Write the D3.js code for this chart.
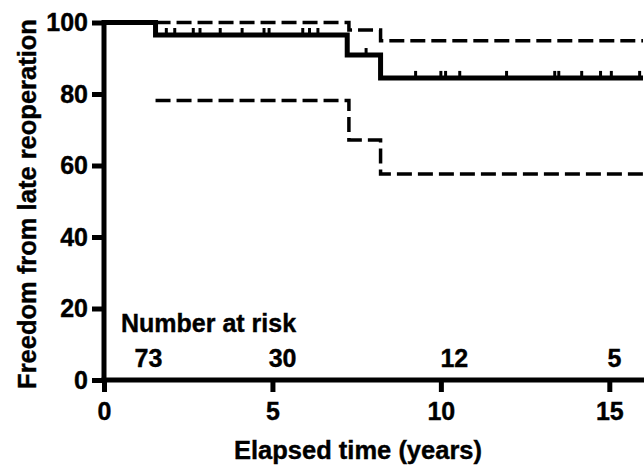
<!doctype html>
<meta charset="utf-8">
<title>Freedom from late reoperation</title>
<script src="https://d3js.org/d3.v7.min.js"></script>
<style>
  body { margin: 0; background: #fff; }
  text { font-family: "Liberation Sans", Arial, sans-serif; font-weight: bold; fill: #000; stroke: #000; stroke-width: 0.4px; }
</style>
<svg id="chart" width="644" height="465"></svg>
<script>
// Kaplan-Meier estimate (years, %)
const kmTimes = [0, 1.53, 7.22, 8.21, 16];
const kmValues = [100, 96.5, 90.9, 84.5, 84.5];

// 95% confidence band
const upperTimes = [1.53, 7.27, 8.21, 16];
const upperValues = [100, 97.9, 94.9, 94.9];
const lowerTimes = [1.53, 7.27, 8.21, 16];
const lowerValues = [78.2, 67.1, 57.6, 57.6];

// censored observations
const censorTimes = [1.85, 2.1, 2.65, 2.85, 3.45, 4.1, 4.75, 4.9, 5.9, 6.1, 6.35,
                     7.78, 9.25, 10.0, 10.14, 10.56, 11.95, 13.38, 13.5, 14.18, 14.74, 15.06, 15.9];

const xTicks = [0, 5, 10, 15];
const yTicks = [0, 20, 40, 60, 80, 100];

const riskYears = [1.32, 5.3, 10.4, 15.15];
const riskCounts = [73, 30, 12, 5];

function kmAt(t) {
  let v = kmValues[0];
  kmTimes.forEach((k, i) => { if (k <= t) v = kmValues[i]; });
  return v;
}

const svg = d3.select("#chart");
const x = d3.scaleLinear().domain([0, 16]).range([104, 643]);
const y = d3.scaleLinear().domain([0, 100]).range([380, 22.5]);

const line = d3.line()
    .x(d => x(d[0]))
    .y(d => y(d[1]))
    .curve(d3.curveStepAfter);

// confidence limits, dashed
[[upperTimes, upperValues], [lowerTimes, lowerValues]].forEach(([ts, vs]) => {
  svg.append("path")
      .attr("d", line(d3.zip(ts, vs)))
      .attr("fill", "none")
      .attr("stroke", "#000")
      .attr("stroke-width", 3.5)
      .attr("stroke-dasharray", "15,6");
});

// survival curve
svg.append("path")
    .attr("d", line(d3.zip(kmTimes, kmValues)))
    .attr("fill", "none")
    .attr("stroke", "#000")
    .attr("stroke-width", 5);

// censor marks
svg.append("g").selectAll("line")
  .data(censorTimes)
  .join("line")
    .attr("x1", d => x(d)).attr("x2", d => x(d))
    .attr("y1", d => y(kmAt(d)))
    .attr("y2", d => y(kmAt(d)) - 7)
    .attr("stroke", "#000")
    .attr("stroke-width", 3);

// axes
const yAxis = svg.append("g")
    .attr("transform", "translate(104,0)")
    .call(d3.axisLeft(y).tickValues(yTicks).tickSize(12).tickSizeOuter(0).tickPadding(4));

const xAxis = svg.append("g")
    .attr("transform", "translate(0,380)")
    .call(d3.axisBottom(x).tickValues(xTicks).tickSize(12).tickSizeOuter(0).tickPadding(10));

[yAxis, xAxis].forEach(a => {
  a.select(".domain").attr("stroke-width", 5);
  a.selectAll(".tick line").attr("stroke-width", 5);
  a.selectAll(".tick text").style("font-size", "25px").attr("font-family", null);
});
xAxis.select(".domain").attr("d", "M101.5,0H644");
yAxis.select(".domain").attr("d", "M0,20V382.5");

// number at risk
svg.append("text")
    .attr("x", 121).attr("y", 332)
    .style("font-size", "25px")
    .text("Number at risk");

svg.append("g").selectAll("text")
  .data(riskCounts)
  .join("text")
    .attr("x", (d, i) => x(riskYears[i]))
    .attr("y", 367)
    .attr("text-anchor", "middle")
    .style("font-size", "25px")
    .text(d => d);

// axis titles
svg.append("text")
    .attr("x", 358).attr("y", 459)
    .attr("text-anchor", "middle")
    .style("font-size", "25.5px")
    .text("Elapsed time (years)");

svg.append("text")
    .attr("transform", "translate(36,204) rotate(-90)")
    .attr("text-anchor", "middle")
    .style("font-size", "25.5px")
    .text("Freedom from late reoperation");
</script>
